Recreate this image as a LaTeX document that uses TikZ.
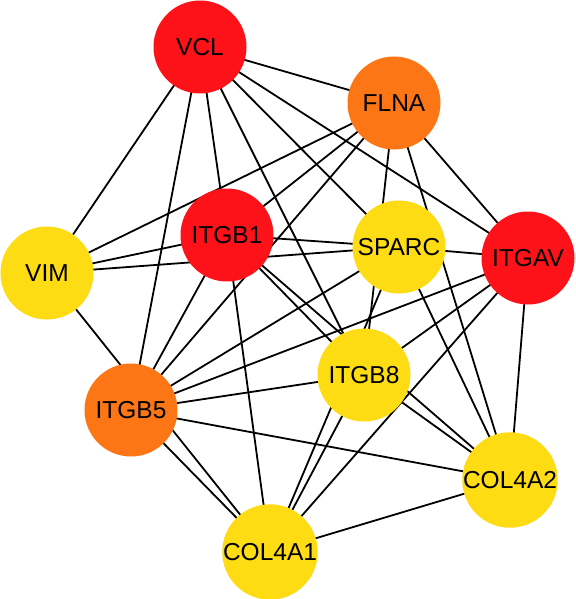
\documentclass[tikz,border=0pt]{standalone}
\usepackage{fontspec}
\setmainfont{Liberation Sans}
\usetikzlibrary{backgrounds}
\definecolor{hubred}{RGB}{252,18,24}
\definecolor{huborange}{RGB}{252,118,22}
\definecolor{hubyellow}{RGB}{253,220,20}
\tikzset{
  gene/.style={circle, minimum size=93pt, inner sep=0pt, text=black,
    font=\fontsize{24.5}{24.5}\selectfont},
  redgene/.style={gene, fill=hubred},
  orangegene/.style={gene, fill=huborange},
  yellowgene/.style={gene, fill=hubyellow},
  link/.style={draw=black, line width=1.8pt}
}
\begin{document}
\begin{tikzpicture}[x=1pt,y=-1pt]
\useasboundingbox (0,0) rectangle (575,599);
\clip (0,0) rectangle (575,599);
\node[redgene] (VCL) at (200,47) {VCL};
\node[orangegene] (FLNA) at (394,103) {FLNA};
\node[redgene] (ITGB1) at (227,235) {ITGB1};
\node[yellowgene] (SPARC) at (399,247) {SPARC};
\node[redgene] (ITGAV) at (528,258) {ITGAV};
\node[yellowgene] (VIM) at (47,273) {VIM};
\node[yellowgene] (ITGB8) at (364,375) {ITGB8};
\node[orangegene] (ITGB5) at (131,410) {ITGB5};
\node[yellowgene] (COL4A2) at (510,480) {COL4A2};
\node[yellowgene] (COL4A1) at (270,552) {COL4A1};
\begin{scope}[on background layer]
\foreach \a/\b in {VCL/FLNA, VCL/ITGB1, VCL/SPARC, VCL/ITGAV, VCL/VIM, VCL/ITGB8, VCL/ITGB5,
  FLNA/VIM, FLNA/ITGB1, FLNA/ITGB5, FLNA/ITGB8, FLNA/COL4A2, FLNA/ITGAV,
  ITGB1/SPARC, ITGB1/VIM, ITGB1/ITGB8, ITGB1/ITGB5, ITGB1/COL4A2, ITGB1/COL4A1,
  SPARC/ITGAV, SPARC/VIM, SPARC/ITGB5, SPARC/COL4A2, SPARC/COL4A1,
  ITGAV/ITGB8, ITGAV/ITGB5, ITGAV/COL4A2, ITGAV/COL4A1,
  VIM/COL4A1, ITGB8/ITGB5, ITGB8/COL4A2, ITGB8/COL4A1,
  ITGB5/COL4A2, ITGB5/COL4A1, COL4A2/COL4A1}
  \draw[link] (\a.center) -- (\b.center);
\end{scope}
\end{tikzpicture}
\end{document}
